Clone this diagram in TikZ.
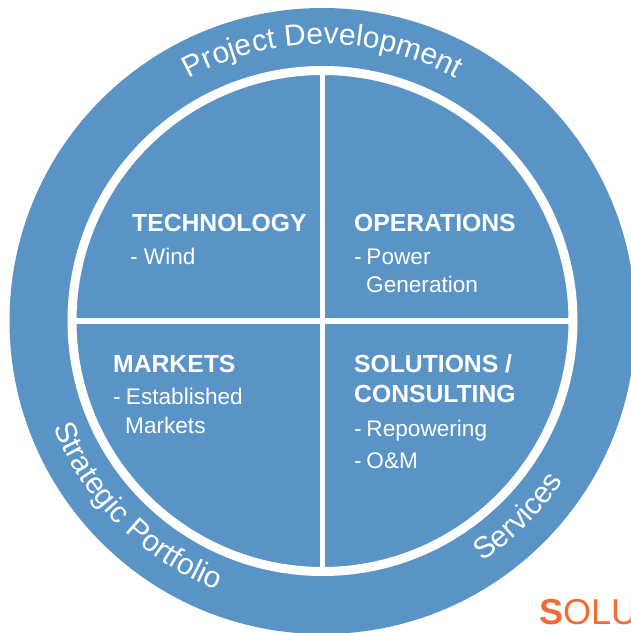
\documentclass[tikz,border=0pt]{standalone}
\usepackage{fontspec}
\setmainfont{Liberation Sans}
\usetikzlibrary{decorations.text}
\definecolor{ringblue}{HTML}{5A94C6}
\definecolor{brandorange}{HTML}{F26A35}
\newcommand{\ringfont}{\fontsize{30}{36}\selectfont}
\tikzset{
  x=1pt,y=1pt,
  heading/.style={anchor=base west,inner sep=0pt,text=white,font=\fontsize{24.7}{29}\selectfont\bfseries},
  bodytext/.style={anchor=base west,inner sep=0pt,text=white,font=\fontsize{22.6}{27}\selectfont},
  divider/.style={draw=white,line width=5.5pt},
  ringlabel/.style={decorate,decoration={text along path,text align=center,text={|\ringfont\color{white}|#1}}}
}
\begin{document}
\begin{tikzpicture}
\useasboundingbox (0,0) rectangle (631,633);
\clip (0,0) rectangle (631,633);
\coordinate (c) at (322.5,312);
\fill[ringblue] (c) circle (313);
\draw[white,line width=9pt] (c) circle (250.5);
\draw[divider] (322.5,63) -- (322.5,561);
\draw[divider] (74,312) -- (571,312);
% ring labels
\path[ringlabel={Project Development}] (c) ++(120:277) arc (120:60:277);
\path[ringlabel={Strategic Portfolio}] (c) ++(200:289) arc (200:250:289);
\path[ringlabel={Services}] (c) ++(-58.5:289) arc (-58.5:-31.5:289);
% quadrants
\node[heading] (tech) at (132,401) {TECHNOLOGY};
\node[bodytext] (wind) at (130,368) {- Wind};
\node[heading] (ops) at (354,401) {OPERATIONS};
\node[bodytext] (power) at (354,368) {-\kern-1.5pt{} Power};
\node[bodytext] (gen) at (366,340) {Generation};
\node[heading] (mark) at (113,260) {MARKETS};
\node[bodytext] (estab) at (113,228) {-\kern-1pt{} Established};
\node[bodytext] (mark2) at (125,199) {Markets};
\node[heading] (sol) at (354,260) {SOLUTIONS /};
\node[heading] (cons) at (354,230) {CONSULTING};
\node[bodytext] (rep) at (354,196) {-\kern-1.5pt{} Repowering};
\node[bodytext] (om) at (354,164) {-\kern-1.5pt{} O\&M};
\node[anchor=base west,inner sep=0pt,text=brandorange,font=\fontsize{36}{40}\selectfont] (brand) at (539,9) {\textbf{S}OLU};
\end{tikzpicture}
\end{document}
